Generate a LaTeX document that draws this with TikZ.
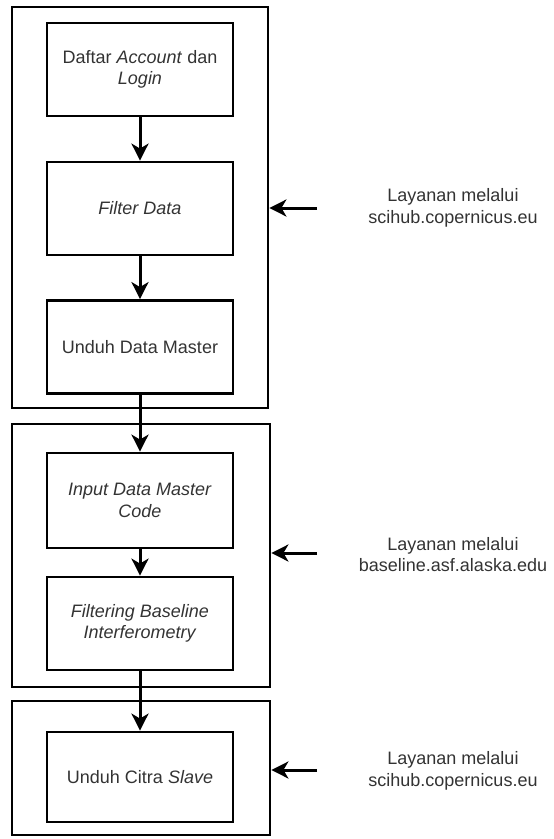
\documentclass[tikz,border=0pt]{standalone}
\usepackage{fontspec}
\setmainfont{Liberation Sans}
\usetikzlibrary{arrows.meta}
\tikzset{
  blok/.style={draw, line width=2.8pt, minimum width=186pt, minimum height=93pt, inner sep=0pt,
    align=center, text=black!80, font=\fontsize{18}{21.5}\selectfont},
  grup/.style={draw, line width=2.8pt, inner sep=0pt},
  ket/.style={align=center, text=black!80, font=\fontsize{18}{21.5}\selectfont},
}
\begin{document}
\begin{tikzpicture}[x=1pt, y=-1pt, >={Stealth[length=17pt, width=17pt, inset=5pt]}, line width=3pt]
            \useasboundingbox (0, 0) rectangle (554, 839);
            \node[grup, minimum width=256pt, minimum height=401pt] (g1) at (140, 207.5) {};
            \node[grup, minimum width=258pt, minimum height=263pt] (g2) at (141, 555.5) {};
            \node[grup, minimum width=258pt, minimum height=134pt] (g3) at (141, 768) {};
            \node[blok] (daftar) at (140, 69.5) {Daftar \textit{Account} dan\\\textit{Login}};
            \node[blok] (filter) at (140, 208.5) {\textit{Filter Data}};
            \node[blok] (unduhmaster) at (140, 347) {Unduh Data Master};
            \node[blok, minimum height=95pt] (input) at (140, 500.5) {\textit{Input Data Master}\\\textit{Code}};
            \node[blok] (baseline) at (140, 623.5) {\textit{Filtering Baseline}\\\textit{Interferometry}};
            \node[blok, minimum height=90pt] (unduhslave) at (140, 777) {Unduh Citra \textit{Slave}};
            \node[ket] (k1) at (453, 208) {Layanan melalui\\scihub.copernicus.eu};
            \node[ket] (k2) at (453, 554.5) {Layanan melalui\\baseline.asf.alaska.edu};
            \node[ket] (k3) at (453, 771) {Layanan melalui\\scihub.copernicus.eu};
            \coordinate (a1) at (317, 208);
            \coordinate (a2) at (317, 553);
            \coordinate (a3) at (317, 770);
            \draw[->] (daftar) -- (filter);
            \draw[->] (filter) -- (unduhmaster);
            \draw[->] (unduhmaster) -- (input);
            \draw[->] (input) -- (baseline);
            \draw[->] (baseline) -- (unduhslave);
            \draw[->] (a1) -- (a1 -| g1.east);
            \draw[->] (a2) -- (a2 -| g2.east);
            \draw[->] (a3) -- (a3 -| g3.east);
\end{tikzpicture}
\end{document}
